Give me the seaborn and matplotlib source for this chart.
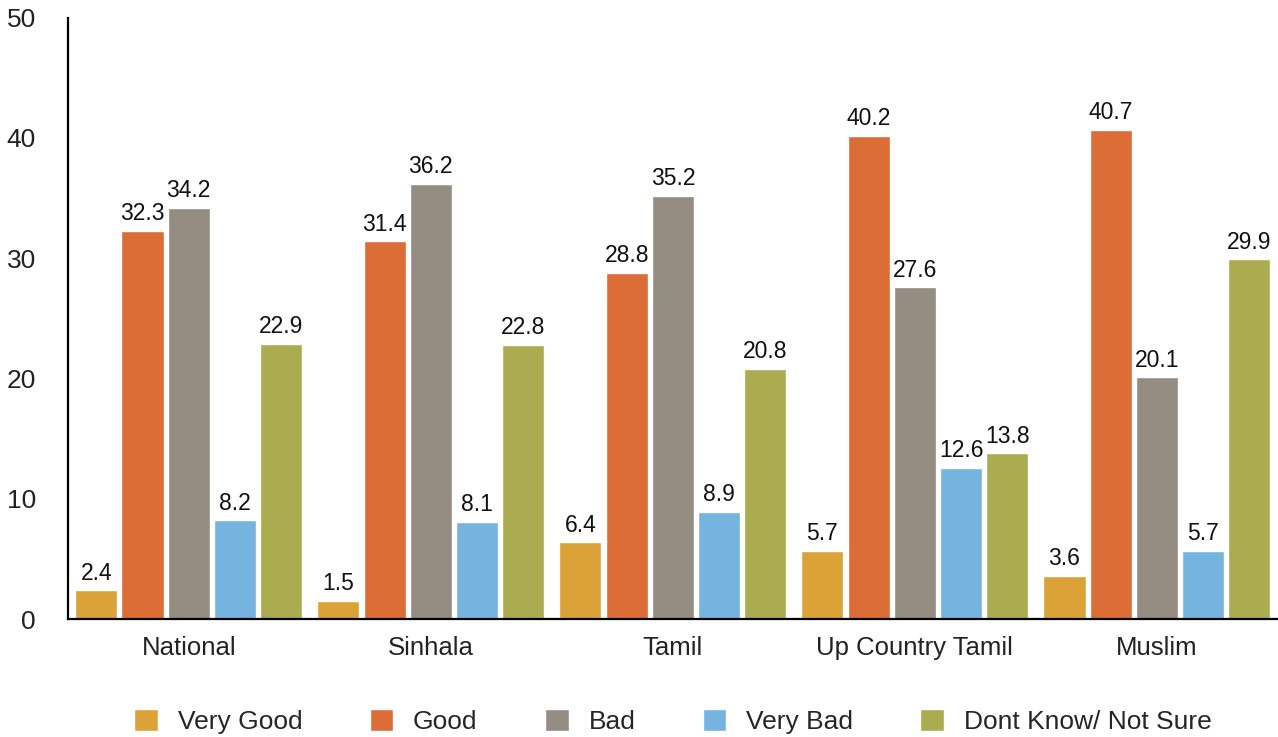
import pandas as pd
import seaborn as sns
import matplotlib.pyplot as plt

groups = ["National", "Sinhala", "Tamil", "Up Country Tamil", "Muslim"]
responses = ["Very Good", "Good", "Bad", "Very Bad", "Dont Know/ Not Sure"]

very_good = [2.4, 1.5, 6.4, 5.7, 3.6]
good = [32.3, 31.4, 28.8, 40.2, 40.7]
bad = [34.2, 36.2, 35.2, 27.6, 20.1]
very_bad = [8.2, 8.1, 8.9, 12.6, 5.7]
dont_know = [22.9, 22.8, 20.8, 13.8, 29.9]

colors = ["#DBA237", "#DC6D36", "#958C82", "#76B4E0", "#ABAC4F"]

rows = []
for resp, vals in zip(responses, [very_good, good, bad, very_bad, dont_know]):
    for grp, v in zip(groups, vals):
        rows.append({"group": grp, "response": resp, "value": v})
df = pd.DataFrame(rows)

sns.set_theme(style="white")
plt.rcParams["font.family"] = ["Liberation Sans", "DejaVu Sans"]

fig = plt.figure(figsize=(12.78, 7.37), dpi=100)
ax = fig.add_axes([0.053, 0.16, 0.947, 0.816])

sns.barplot(data=df, x="group", y="value", hue="response", order=groups,
            hue_order=responses, palette=colors, width=0.955, gap=0.09,
            saturation=1, errorbar=None, ax=ax)

for cont in ax.containers:
    ax.bar_label(cont, fmt="%.1f", padding=4, fontsize=16.5, color="#111111")

ax.set_ylim(0, 50)
ax.set_xlim(-0.5, 4.5)
ax.set_yticks([0, 10, 20, 30, 40, 50])
ax.set_xlabel("")
ax.set_ylabel("")
ax.tick_params(axis="y", length=0, pad=23, labelsize=19, labelcolor="#222222")
ax.tick_params(axis="x", length=0, pad=12, labelsize=18.5, labelcolor="#222222")

sns.despine(ax=ax, top=True, right=True)
for side in ["left", "bottom"]:
    ax.spines[side].set_color("black")
    ax.spines[side].set_linewidth(1.6)

ax.legend(loc="upper center", bbox_to_anchor=(0.5, -0.11), ncol=5, frameon=False,
          fontsize=19, handlelength=0.9, handleheight=0.9, handletextpad=0.75,
          columnspacing=2.55)

fig.savefig("out.png", dpi=100)
